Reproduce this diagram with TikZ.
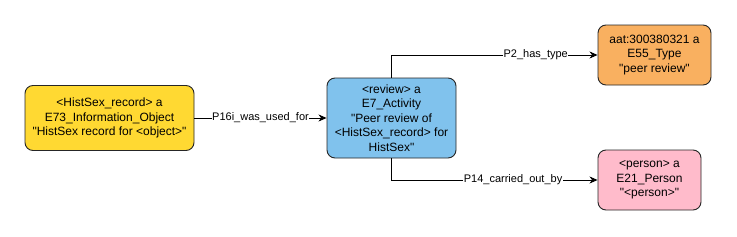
\documentclass[tikz,border=0pt]{standalone}
\usepackage{fontspec}
\newfontfamily\lib{Liberation Sans}
\usetikzlibrary{arrows.meta}
\definecolor{cyel}{HTML}{FFD932}
\definecolor{cblue}{HTML}{80C2ED}
\definecolor{corange}{HTML}{F9B060}
\definecolor{cpink}{HTML}{FFBBCB}
\begin{document}
\begin{tikzpicture}[x=1pt,y=-1pt,
  ent/.style={draw=black!85, line width=0.9pt, rounded corners=8pt, align=center, inner sep=0pt,
    font=\lib\fontsize{12}{14.5}\selectfont},
  conn/.style={line width=0.9pt, -{Stealth[length=8pt,width=7pt,inset=2.5pt]}},
  lbl/.style={fill=white, inner sep=0.5pt, font=\lib\fontsize{11}{13}\selectfont}]
\useasboundingbox (0,0) rectangle (737,236);
\fill[white] (0,0) rectangle (737,236);
\node[ent, fill=cyel, minimum width=169pt, minimum height=65pt] (rec) at (109.5,118)
  {<HistSex\_record> a\\E73\_Information\_Object\\"HistSex record for <object>"};
\node[ent, fill=cblue, minimum width=129pt, minimum height=80pt] (rev) at (391.5,118)
  {<review> a\\E7\_Activity\\"Peer review of\\<HistSex\_record> for\\HistSex"};
\node[ent, fill=corange, minimum width=113pt, minimum height=60pt] (typ) at (654.5,55)
  {aat:300380321 a\\E55\_Type\\"peer review"};
\node[ent, fill=cpink, minimum width=103pt, minimum height=60pt] (per) at (649.5,180)
  {<person> a\\E21\_Person\\"<person>"};
\draw[conn] (rec) -- node[lbl] {P16i\_was\_used\_for} (rev);
\coordinate (c1) at (rev.north |- typ.west);
\coordinate (c2) at (rev.south |- per.west);
\draw[conn] (rev.north) -- (c1) -- node[lbl, pos=0.7] {P2\_has\_type} (typ.west);
\draw[conn] (rev.south) -- (c2) -- node[lbl, pos=0.59] {P14\_carried\_out\_by} (per.west);
\end{tikzpicture}
\end{document}
